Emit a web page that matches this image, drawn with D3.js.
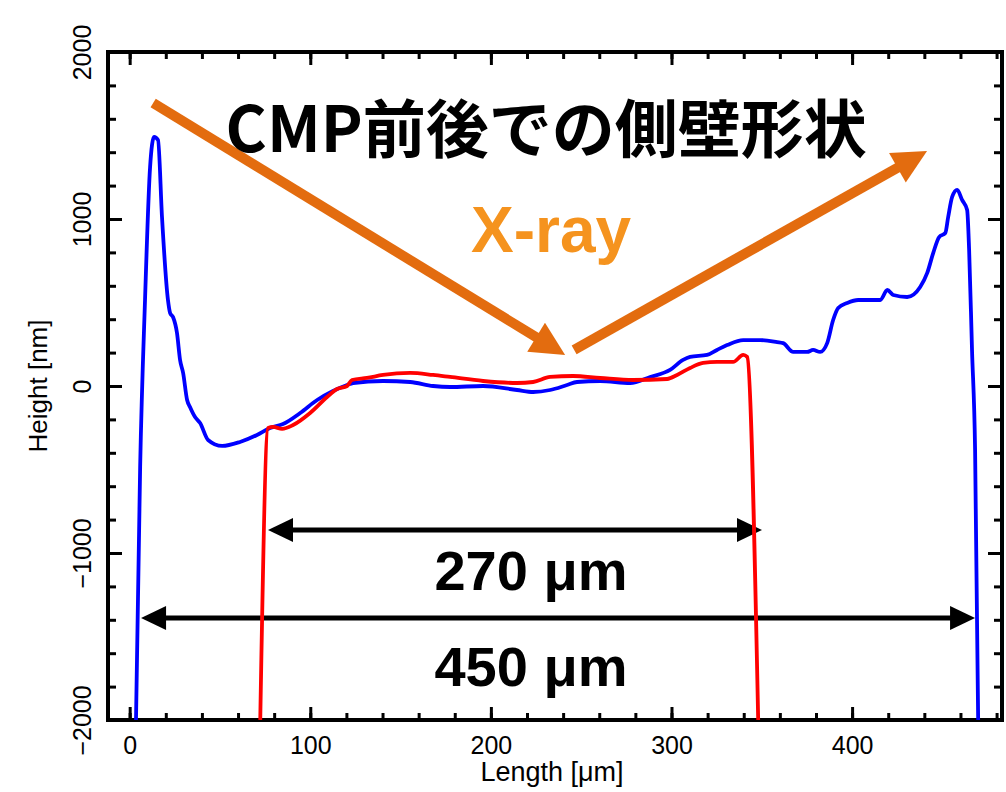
<!DOCTYPE html>
<html><head><meta charset="utf-8">
<script src="https://cdn.jsdelivr.net/npm/d3@7"></script>
<style>body{margin:0;background:#fff}svg{display:block}</style>
</head><body>
<svg id="c" width="1006" height="792"></svg>
<script>
// ---- data (x: Length [µm], y: Height [nm]) ----
const blueX = [3.5,5.8,8.5,11.3,13.5,15.7,17.9,21.2,22.4,24.0,26.2,27.9,29.6,31.8,33.4,36.2,39.0,43.4,51.2,61.1,70.5,77.7,84.9,94.4,103.8,112.6,120.4,123.7,140.3,155.3,168.0,177.4,195.7,214.5,223.4,232.8,242.2,247.7,260.5,277.1,288.2,299.2,306.4,310.3,319.7,325.2,330.8,339.7,349.1,358.5,361.8,367.4,375.1,378.4,382.3,386.2,389.5,392.3,397.3,403.4,415.6,419.5,422.8,430.5,437.7,441.6,444.9,448.2,451.6,453.2,455.4,458.2,460.9,463.7,464.8,466.4,468.1,469.8];
const blueY = [-2000,-485,515,1311,1491,1473,1012,515,437,413,317,156,78,-84,-126,-186,-222,-323,-359,-335,-293,-251,-228,-162,-84,-30,6,18,30,24,0,-6,0,-24,-36,-24,6,24,30,18,54,96,156,174,186,216,245,275,275,263,257,204,204,216,204,257,395,467,497,515,515,575,545,533,593,677,796,892,916,1012,1132,1174,1114,1054,814,216,-383,-2000];
const redX = [72.3,76.6,79.4,84.4,90.5,99.9,109.3,114.8,120.4,123.1,131.4,140.3,155.3,168.0,177.4,195.7,214.5,223.4,232.8,245.5,260.5,278.7,297.6,303.1,310.3,317.5,325.2,334.1,339.7,341.9,348.0];
const redY = [-2000,-251,-245,-257,-234,-162,-66,-18,0,36,48,66,78,66,54,30,18,24,54,60,48,36,42,66,108,138,144,144,186,174,-2000];
const xTicks = [0,100,200,300,400];
const yTicks = [-2000,-1000,0,1000,2000];
const xLabel = "Length [\u03bcm]";
const yLabel = "Height [nm]";
const title = "CMP前後での側壁形状";
const subTitle = "X-ray";
const spans = [{x0:76.6,x1:350.1,y:-862,label:"270 \u03bcm",ly:-1222},{x0:6.3,x1:468.1,y:-1389,label:"450 \u03bcm",ly:-1796}];
const beams = [{x0:13.0,y0:1695,x1:241.1,y1:186},{x0:246.1,y0:216,x1:441.5,y1:1407}];

// ---- chart ----
const svg = d3.select("#c");
const L=108,R=1002,T=52,B=720;
const x = d3.scaleLinear().domain([-12,483]).range([L,R]);
const y = d3.scaleLinear().domain([-2000,2000]).range([B,T]);
const font = "'Liberation Sans', Arial, Helvetica, sans-serif";

function ticks(g){ g.selectAll("path").remove(); g.selectAll("line").attr("stroke","#000").attr("stroke-width",3); }
const xMinor = d3.range(0,484,20);
const yMinor = d3.range(-2000,2001,200);
// bottom
svg.append("g").attr("transform",`translate(0,${B})`).call(d3.axisBottom(x).tickValues(xMinor).tickSize(-7).tickFormat("")).call(ticks);
svg.append("g").attr("transform",`translate(0,${B})`).call(d3.axisBottom(x).tickValues(xTicks).tickSize(-13).tickPadding(16)).call(ticks)
  .selectAll("text").attr("font-family",font).attr("font-size",25).attr("fill","#000");
// top
svg.append("g").attr("transform",`translate(0,${T})`).call(d3.axisTop(x).tickValues(xMinor).tickSize(-7).tickFormat("")).call(ticks);
svg.append("g").attr("transform",`translate(0,${T})`).call(d3.axisTop(x).tickValues(xTicks).tickSize(-13).tickFormat("")).call(ticks);
// left
svg.append("g").attr("transform",`translate(${L},0)`).call(d3.axisLeft(y).tickValues(yMinor).tickSize(-8).tickFormat("")).call(ticks);
const yl = svg.append("g").attr("transform",`translate(${L},0)`).call(d3.axisLeft(y).tickValues(yTicks).tickSize(-14).tickFormat(d=>d<0?"\u2212"+Math.abs(d):d)).call(ticks);
yl.selectAll("text").attr("font-family",font).attr("font-size",25).attr("fill","#000")
  .attr("x",null).attr("dy",null).attr("text-anchor","middle")
  .attr("transform","translate(-17,0) rotate(-90)");
// right
svg.append("g").attr("transform",`translate(${R},0)`).call(d3.axisRight(y).tickValues(yMinor).tickSize(-8).tickFormat("")).call(ticks);
svg.append("g").attr("transform",`translate(${R},0)`).call(d3.axisRight(y).tickValues(yTicks).tickSize(-14).tickFormat("")).call(ticks);
// frame
svg.append("rect").attr("x",L).attr("y",T).attr("width",R-L).attr("height",B-T).attr("fill","none").attr("stroke","#000").attr("stroke-width",4);

// axis titles
svg.append("text").attr("x",552).attr("y",781).attr("text-anchor","middle").attr("font-family",font).attr("font-size",27).text(xLabel);
svg.append("text").attr("transform",`translate(47,${(T+B)/2}) rotate(-90)`).attr("text-anchor","middle").attr("font-family",font).attr("font-size",26).text(yLabel);

// black span arrows
function arrowHead(g,tx,ty,dx,dy,len,hw,color){
  const n=Math.hypot(dx,dy), ux=dx/n, uy=dy/n, px=-uy, py=ux;
  const bx=tx-ux*len, by=ty-uy*len;
  g.append("path").attr("d",`M${tx},${ty}L${bx+px*hw},${by+py*hw}L${bx-px*hw},${by-py*hw}Z`).attr("fill",color);
}
const ann = svg.append("g");
spans.forEach(s=>{
  const x0=x(s.x0),x1=x(s.x1),yy=y(s.y);
  ann.append("line").attr("x1",x0+20).attr("x2",x1-20).attr("y1",yy).attr("y2",yy).attr("stroke","#000").attr("stroke-width",5);
  arrowHead(ann,x0,yy,-1,0,25,12,"#000");
  arrowHead(ann,x1,yy,1,0,25,12,"#000");
  ann.append("text").attr("x",x(222.2)).attr("y",y(s.ly)).attr("text-anchor","middle")
    .attr("font-family",font).attr("font-weight","bold").attr("font-size",56).text(s.label);
});

// data lines
const line = d3.line().x((d)=>x(d[0])).y(d=>y(d[1])).curve(d3.curveMonotoneX);
const plot = svg.append("g");
plot.append("path").datum(d3.zip(blueX,blueY)).attr("d",line).attr("fill","none").attr("stroke","#0000ff").attr("stroke-width",3.8).attr("stroke-linejoin","round");
plot.append("path").datum(d3.zip(redX,redY)).attr("d",line).attr("fill","none").attr("stroke","#ff0000").attr("stroke-width",3.8).attr("stroke-linejoin","round");

// orange beams
beams.forEach(b=>{
  const x0=x(b.x0),y0=y(b.y0),x1=x(b.x1),y1=y(b.y1);
  const dx=x1-x0, dy=y1-y0, n=Math.hypot(dx,dy);
  ann.append("line").attr("x1",x0).attr("y1",y0).attr("x2",x1-dx/n*28).attr("y2",y1-dy/n*28).attr("stroke","#e36c0f").attr("stroke-width",10);
  arrowHead(ann,x1,y1,dx,dy,34,17,"#e36c0f");
});

// titles
svg.append("text").attr("x",x(230.6)).attr("y",y(1401)).attr("text-anchor","middle")
  .attr("font-family","'Noto Sans CJK JP', sans-serif").attr("font-weight","bold").attr("font-size",63).text(title);
svg.append("text").attr("x",x(233.3)).attr("y",y(802)).attr("text-anchor","middle")
  .attr("font-family",font).attr("font-weight","bold").attr("font-size",64).attr("fill","#f5931e").text(subTitle);
</script>
</body></html>
